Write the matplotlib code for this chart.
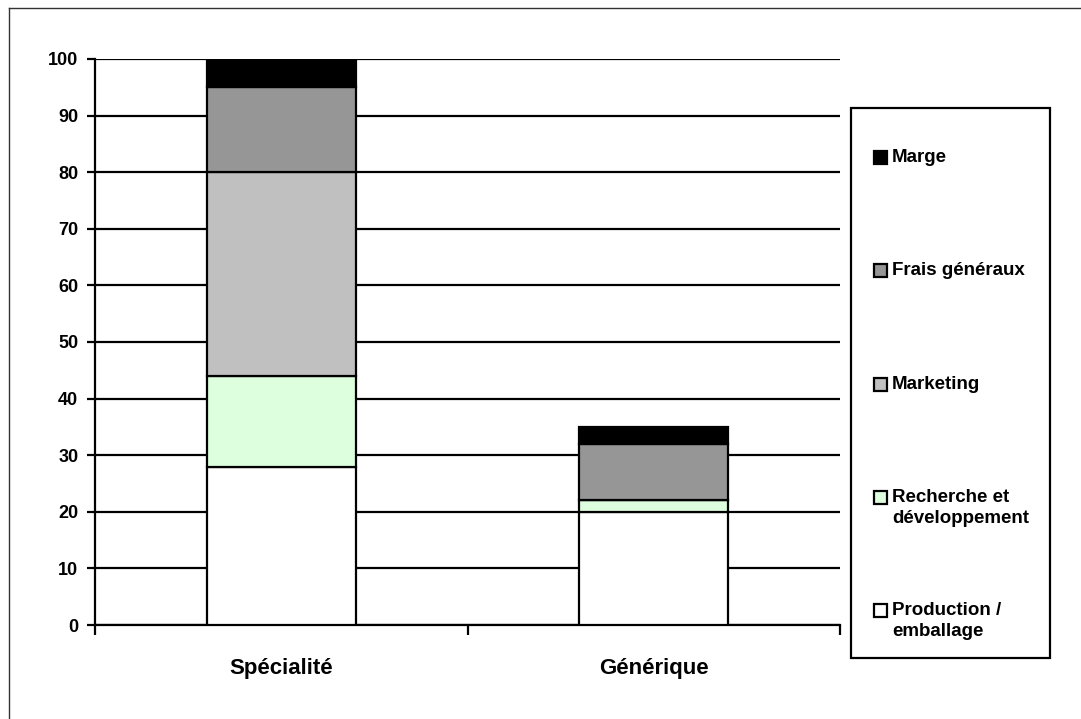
import matplotlib
matplotlib.use("Agg")
import matplotlib.pyplot as plt
from matplotlib.patches import Rectangle
from matplotlib.lines import Line2D
import numpy as np

plt.rcParams["font.family"] = ["Liberation Sans", "DejaVu Sans"]
plt.rcParams["font.weight"] = "bold"

categories = ["Spécialité", "Générique"]
components = ["Production /\nemballage", "Recherche et\ndéveloppement", "Marketing",
              "Frais généraux", "Marge"]
colors = ["#ffffff", "#ddffdd", "#c0c0c0", "#969696", "#000000"]

production = [28, 20]
recherche = [16, 2]
marketing = [36, 0]
frais = [15, 10]
marge = [5, 3]
series = [production, recherche, marketing, frais, marge]

yticks = list(range(0, 101, 10))

W, H = 1081, 719
fig = plt.figure(figsize=(W / 100, H / 100), dpi=100)
ax = fig.add_axes([95 / W, 1 - 625 / H, (840 - 95) / W, (625 - 59) / H])

x = np.arange(len(categories))
bottom = np.zeros(len(categories))
for vals, col in zip(series, colors):
    vals = np.array(vals, dtype=float)
    ax.bar(x, vals, width=0.4, bottom=bottom, color=col, edgecolor="black",
           linewidth=1.6, zorder=3)
    bottom += vals

ax.set_xlim(-0.5, 1.5)
ax.set_ylim(0, 100)
ax.set_yticks(yticks)
ax.set_yticklabels([str(t) for t in yticks], fontsize=13, fontweight="bold")
ax.yaxis.grid(True, color="black", linewidth=1.6, zorder=0)
ax.set_axisbelow(True)

ax.set_xticks([-0.5, 0.5, 1.5])
ax.set_xticklabels([])
ax.set_xticks(x, minor=True)
ax.set_xticklabels(categories, minor=True, fontsize=16, fontweight="bold")
ax.tick_params(axis="x", which="major", direction="out", length=7, width=1.6)
ax.tick_params(axis="x", which="minor", length=0, pad=24)
ax.tick_params(axis="y", direction="out", length=6, width=1.6, pad=6)

for side in ["top", "right"]:
    ax.spines[side].set_visible(False)
for side in ["left", "bottom"]:
    ax.spines[side].set_linewidth(1.6)

# legend box drawn in figure pixels, top entry first
fig.patches.append(Rectangle((851 / W, 1 - 658 / H), (1050 - 851) / W, (658 - 108) / H,
                             transform=fig.transFigure, facecolor="white",
                             edgecolor="black", linewidth=1.6))
entry_y = [157, 270, 384, 497, 610]
for yy, label, col in zip(entry_y, components[::-1], colors[::-1]):
    fig.patches.append(Rectangle((874 / W, 1 - (yy + 7) / H), 13 / W, 13 / H,
                                 transform=fig.transFigure, facecolor=col,
                                 edgecolor="black", linewidth=1.6))
    fig.text(892 / W, 1 - (yy - 8) / H, label, fontsize=13.5, fontweight="bold",
             va="top", ha="left", linespacing=1.3)

# outer frame (top and left edges)
fig.add_artist(Line2D([9 / W, 9 / W], [0, 1 - 8 / H], transform=fig.transFigure,
                      color="#333333", linewidth=1.0))
fig.add_artist(Line2D([9 / W, 1], [1 - 8 / H, 1 - 8 / H], transform=fig.transFigure,
                      color="#333333", linewidth=1.0))

fig.savefig("out.png", dpi=100)
